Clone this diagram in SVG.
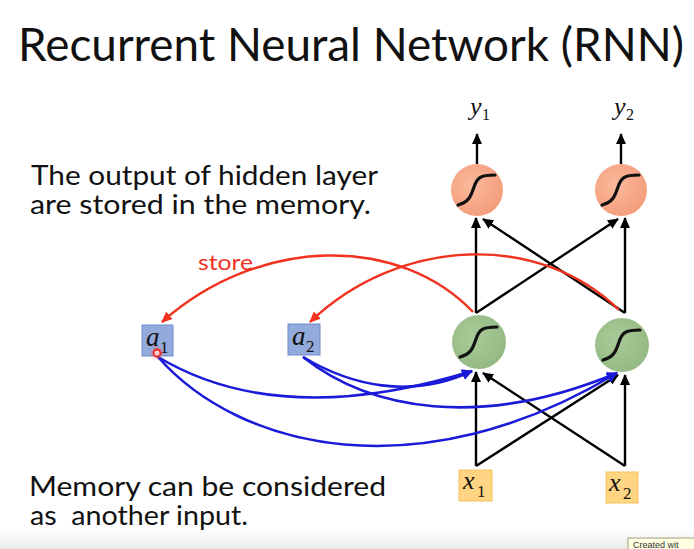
<svg xmlns="http://www.w3.org/2000/svg" width="694" height="549" viewBox="0 0 694 549">
<defs>
<marker id="ab" markerUnits="userSpaceOnUse" markerWidth="12" markerHeight="10" refX="10" refY="5" orient="auto"><path d="M0,0 L11,5 L0,10 Z" fill="#000"/></marker>
<marker id="au" markerUnits="userSpaceOnUse" markerWidth="12" markerHeight="10" refX="10" refY="5" orient="auto"><path d="M0,0 L11,5 L0,10 Z" fill="#1a1ad8"/></marker>
<marker id="ar" markerUnits="userSpaceOnUse" markerWidth="12" markerHeight="10" refX="10" refY="5" orient="auto"><path d="M0,0 L11,5 L0,10 Z" fill="#f0321e"/></marker>
<radialGradient id="go" cx="0.4" cy="0.4" r="0.65"><stop offset="0" stop-color="#fbb99c"/><stop offset="1" stop-color="#f39c7a"/></radialGradient>
<radialGradient id="gg" cx="0.4" cy="0.4" r="0.65"><stop offset="0" stop-color="#a9ca98"/><stop offset="1" stop-color="#93b983"/></radialGradient>
<linearGradient id="band" x1="0" y1="0" x2="0" y2="1"><stop offset="0" stop-color="#ffffff"/><stop offset="1" stop-color="#eaeaea"/></linearGradient>
<radialGradient id="glow"><stop offset="0" stop-color="#ff6060" stop-opacity="0.7"/><stop offset="1" stop-color="#ff6060" stop-opacity="0"/></radialGradient>
</defs>
<style>
.t{font-family:Lato,"Open Sans","Liberation Sans",sans-serif;fill:#111;white-space:pre}
.m{font-family:"Liberation Serif","Times New Roman",serif;font-style:italic;fill:#111}
.s{font-family:"Liberation Serif","Times New Roman",serif;fill:#111}
.bk{fill:none;stroke:#000;stroke-width:2.4;marker-end:url(#ab)}
.bl{fill:none;stroke:#1a1ad8;stroke-width:2.6;marker-end:url(#au)}
.rd{fill:none;stroke:#f0321e;stroke-width:2.4;marker-end:url(#ar)}
.sig{fill:none;stroke:#111;stroke-width:3.2;stroke-linecap:round}
.o{fill:url(#go)}
.g{fill:url(#gg)}
.ab{fill:#93aadc;stroke:#6f8ccb;stroke-width:1}
.xb{fill:#ffd482;stroke:#f6c25c;stroke-width:1}
</style>
<rect width="694" height="549" fill="#fff"/>
<rect x="0" y="528" width="694" height="21" fill="url(#band)"/>
<text class="t" x="18" y="61" font-size="47" textLength="666" lengthAdjust="spacingAndGlyphs">Recurrent Neural Network (RNN)</text>
<text class="t" x="31" y="185" font-size="27" textLength="347" lengthAdjust="spacingAndGlyphs">The output of hidden layer</text>
<text class="t" x="30" y="214" font-size="27" textLength="341" lengthAdjust="spacingAndGlyphs">are stored in the memory.</text>
<text class="t" x="29" y="496" font-size="27" textLength="357" lengthAdjust="spacingAndGlyphs">Memory can be considered</text>
<text class="t" x="30" y="525" font-size="27" textLength="218" lengthAdjust="spacingAndGlyphs">as  another input.</text>
<text class="t" x="198" y="270" font-size="21" style="fill:#f0321e" textLength="55" lengthAdjust="spacingAndGlyphs">store</text>
<g id="connectors">
<line class="bk" x1="477" y1="164" x2="477" y2="134"/>
<line class="bk" x1="621" y1="164" x2="621" y2="134"/>
<line class="bk" x1="476" y1="313" x2="476" y2="218"/>
<line class="bk" x1="476" y1="313" x2="618" y2="219"/>
<line class="bk" x1="625" y1="313" x2="625" y2="218"/>
<line class="bk" x1="625" y1="313" x2="483" y2="219"/>
<line class="bk" x1="476" y1="466" x2="476" y2="372"/>
<line class="bk" x1="476" y1="466" x2="618" y2="375"/>
<line class="bk" x1="625" y1="466" x2="625" y2="375"/>
<line class="bk" x1="625" y1="466" x2="483" y2="373"/>
<path class="rd" d="M473,312 C400,235 260,235 162,322"/>
<path class="rd" d="M619,310 C540,232 400,236 310,322"/>
<path class="bl" d="M158,357 C230,400 330,415 472,371"/>
<path class="bl" d="M158,357 C240,450 420,492 617,373"/>
<path class="bl" d="M303,357 C350,385 410,400 472,371"/>
<path class="bl" d="M303,357 C370,410 480,430 617,373"/>
</g>
<g id="y1"><text class="m" x="470" y="115" font-size="26">y</text><text class="s" x="482" y="120" font-size="16">1</text></g>
<g id="y2"><text class="m" x="614" y="115" font-size="26">y</text><text class="s" x="626" y="120" font-size="16">2</text></g>
<g id="o1"><circle class="o" cx="477" cy="190" r="26"/><path class="sig" transform="translate(477,190)" d="M-19,15 C-8,12 -6,6 -3,-3 C0,-12 3,-15 18,-15"/></g>
<g id="o2"><circle class="o" cx="621" cy="190" r="26"/><path class="sig" transform="translate(621,190)" d="M-19,15 C-8,12 -6,6 -3,-3 C0,-12 3,-15 18,-15"/></g>
<g id="h1"><circle class="g" cx="479" cy="342" r="27"/><path class="sig" transform="translate(479,342)" d="M-19,15 C-8,12 -6,6 -3,-3 C0,-12 3,-15 18,-15"/></g>
<g id="h2"><circle class="g" cx="622" cy="345" r="27"/><path class="sig" transform="translate(622,345)" d="M-19,15 C-8,12 -6,6 -3,-3 C0,-12 3,-15 18,-15"/></g>
<g id="a1"><rect class="ab" x="142" y="325" width="31" height="31"/><text class="m" x="146" y="346" font-size="27">a</text><text class="s" x="160" y="353" font-size="17">1</text></g>
<g id="a2"><rect class="ab" x="288" y="324" width="32" height="31"/><text class="m" x="292" y="345" font-size="27">a</text><text class="s" x="306" y="352" font-size="17">2</text></g>
<g id="x1"><rect class="xb" x="459" y="470" width="33" height="31"/><text class="m" x="463" y="489" font-size="26">x</text><text class="s" x="477" y="497" font-size="17">1</text></g>
<g id="x2"><rect class="xb" x="606" y="472" width="32" height="31"/><text class="m" x="609" y="491" font-size="26">x</text><text class="s" x="623" y="499" font-size="17">2</text></g>
<g id="cursor"><circle cx="157" cy="353" r="8" fill="url(#glow)"/><circle cx="157" cy="353" r="3.5" fill="#ffd0d0" stroke="#e8241c" stroke-width="1.8"/></g>
<g id="tooltip"><rect x="628" y="538" width="70" height="14" fill="#ffffe1" stroke="#a0a080" stroke-width="1"/><text x="633" y="548" font-family="'Liberation Sans',sans-serif" font-size="9" fill="#333">Created wit</text></g>
</svg>
